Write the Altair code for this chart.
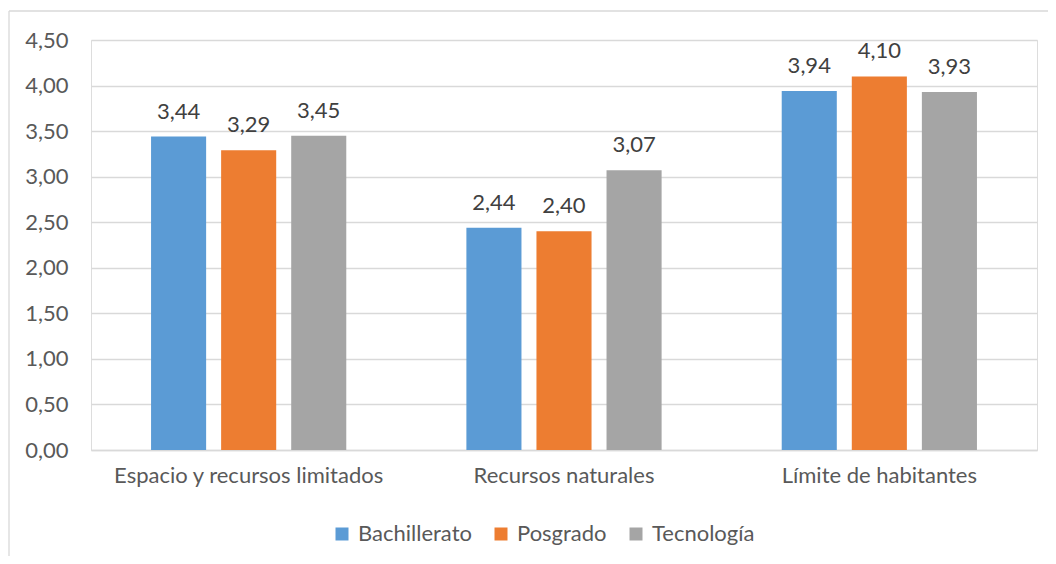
import altair as alt
import pandas as pd

categories = ["Espacio y recursos limitados", "Recursos naturales", "Límite de habitantes"]
series = ["Bachillerato", "Posgrado", "Tecnología"]
bachillerato = [3.44, 2.44, 3.94]
posgrado = [3.29, 2.40, 4.10]
tecnologia = [3.45, 3.07, 3.93]
colors = ["#5B9BD5", "#ED7D31", "#A5A5A5"]

rows = []
for s, vals in zip(series, [bachillerato, posgrado, tecnologia]):
    for c, v in zip(categories, vals):
        rows.append({"categoria": c, "serie": s, "valor": v})
df = pd.DataFrame(rows)

FONT = "Lato"
TXT = "#595959"
FS = 22

base = alt.Chart(df).encode(
    x=alt.X("categoria:N", sort=categories, title=None,
            scale=alt.Scale(paddingInner=0, paddingOuter=0),
            axis=alt.Axis(labelAngle=0, labelFont=FONT, labelFontSize=FS, labelColor=TXT,
                          labelPadding=15, labelLimit=0, ticks=False, domain=True,
                          domainColor="#d9d9d9", domainWidth=1.3, grid=False)),
    xOffset=alt.XOffset("serie:N", sort=series,
                        scale=alt.Scale(paddingInner=0.214, paddingOuter=0.857)),
)

bars = base.mark_bar().encode(
    y=alt.Y("valor:Q", title=None,
            scale=alt.Scale(domain=[0, 4.5], nice=False),
            axis=alt.Axis(values=[0, 0.5, 1, 1.5, 2, 2.5, 3, 3.5, 4, 4.5],
                          labelExpr="replace(format(datum.value, '.2f'), '.', ',')",
                          labelFont=FONT, labelFontSize=FS, labelColor=TXT,
                          labelPadding=23, ticks=False, domain=False,
                          gridColor="#d9d9d9", gridWidth=1.3)),
    color=alt.Color("serie:N", sort=series, title=None,
                    scale=alt.Scale(domain=series, range=colors),
                    legend=alt.Legend(orient="none", direction="horizontal",
                                      legendX=240, legendY=483,
                                      symbolType="square", symbolSize=169,
                                      symbolStrokeWidth=0,
                                      labelFont=FONT, labelFontSize=FS, labelColor=TXT,
                                      columnPadding=18, labelOffset=5)),
)

labels = base.transform_calculate(
    etiqueta="replace(format(datum.valor, '.2f'), '.', ',')"
).mark_text(font=FONT, fontSize=FS, color="#404040", baseline="alphabetic", dy=-18).encode(
    y=alt.Y("valor:Q"),
    text="etiqueta:N",
)

frame_src = pd.DataFrame({"a": [0]})
frame_left = alt.Chart(frame_src).mark_rule(color="#d9d9d9", strokeWidth=1.3, clip=False).encode(
    x=alt.value(-82), y=alt.value(-29), y2=alt.value(516)
)
frame_top = alt.Chart(frame_src).mark_rule(color="#d9d9d9", strokeWidth=1.3, clip=False).encode(
    x=alt.value(-82), x2=alt.value(957), y=alt.value(-29)
)

chart = alt.layer(frame_left, frame_top, bars, labels).properties(
    width=946, height=410,
    padding={"left": 83, "top": 32, "right": 11, "bottom": 106},
    autosize=alt.AutoSizeParams(type="none"),
).configure_view(stroke=None).configure(background="white")

chart.save("out.html", embed_options={"renderer": "svg", "actions": False})
